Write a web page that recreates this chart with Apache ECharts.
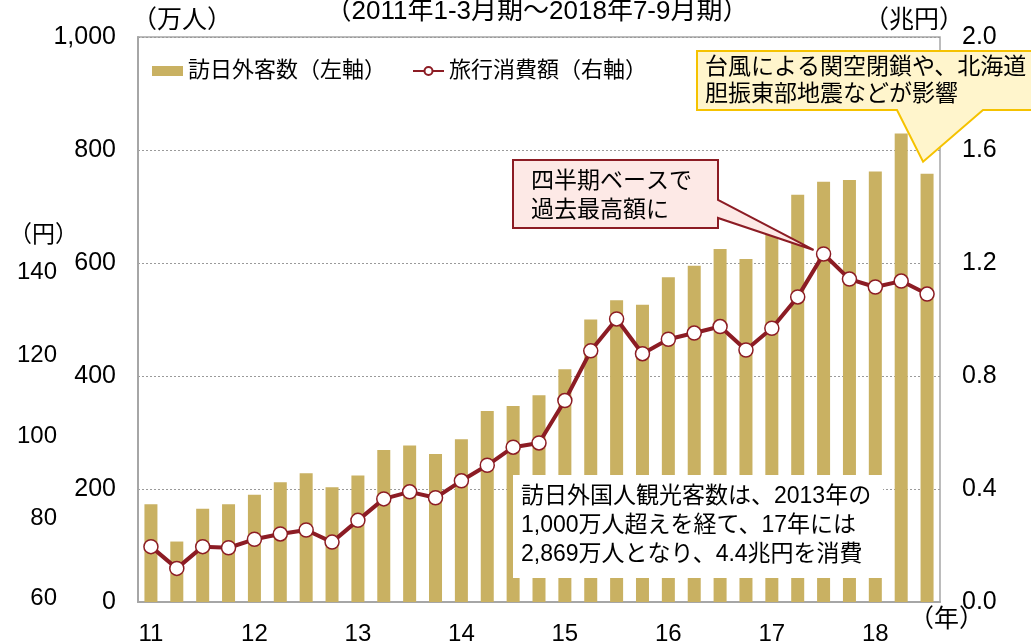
<!DOCTYPE html>
<html>
<head>
<meta charset="utf-8">
<script src="https://cdn.jsdelivr.net/npm/echarts@6/dist/echarts.min.js"></script>
<style>
  html, body { margin: 0; padding: 0; background: #fff; }
  #chart { width: 1031px; height: 641px; }
</style>
</head>
<body>
<div id="chart"></div>
<script>
// quarters 2011 Q1 .. 2018 Q3
var quarters = [
    '11-1', '11-2', '11-3', '11-4',
    '12-1', '12-2', '12-3', '12-4',
    '13-1', '13-2', '13-3', '13-4',
    '14-1', '14-2', '14-3', '14-4',
    '15-1', '15-2', '15-3', '15-4',
    '16-1', '16-2', '16-3', '16-4',
    '17-1', '17-2', '17-3', '17-4',
    '18-1', '18-2', '18-3'
];
// 訪日外客数 (万人)
var visitors = [
    173, 107, 165, 173,
    190, 212, 228, 203,
    224, 269, 277, 262,
    288, 338, 347, 366,
    412, 500, 534, 526,
    575, 595, 625, 607,
    657, 721, 744, 747,
    762, 829, 758
];
// 旅行消費額 (兆円)
var spending = [
    0.196, 0.119, 0.196, 0.192,
    0.222, 0.241, 0.255, 0.212,
    0.289, 0.365, 0.390, 0.369,
    0.429, 0.484, 0.548, 0.563,
    0.713, 0.889, 1.002, 0.879,
    0.930, 0.952, 0.975, 0.892,
    0.969, 1.080, 1.232, 1.143,
    1.115, 1.136, 1.090
];
var leftTicks = [0, 200, 400, 600, 800, 1000];
var rightTicks = [0, 0.4, 0.8, 1.2, 1.6, 2.0];
// stray labels of the neighbouring chart (円)
var yenTicks = ['140', '120', '100', '80', '60'];

var FONT = '"Liberation Sans", Arial, "Noto Sans CJK JP", sans-serif';
var BAR = '#c9b162';
var RED = '#8c1c24';

var chart = echarts.init(document.getElementById('chart'), null, {renderer: 'canvas'});

var option = {
    backgroundColor: '#fff',
    animation: false,
    textStyle: { fontFamily: FONT, color: '#000' },
    grid: {
        left: 138, right: 91, top: 37, bottom: 39,
        outerBoundsMode: 'none',
        show: true, borderColor: '#a6a6a6', borderWidth: 1.5
    },
    legend: {
        left: 147, top: 55,
        itemWidth: 31, itemHeight: 10, itemGap: 26,
        textStyle: { fontSize: 22, color: '#000', fontFamily: FONT },
        data: [
            { name: '訪日外客数（左軸）', icon: 'rect' },
            { name: '旅行消費額（右軸）' }
        ]
    },
    xAxis: {
        type: 'category',
        data: quarters,
        boundaryGap: true,
        axisLine: { lineStyle: { color: '#a6a6a6', width: 2 } },
        axisTick: {
            interval: function (idx) { return idx % 4 === 0; },
            length: 6,
            lineStyle: { color: '#a6a6a6' }
        },
        axisLabel: {
            interval: function (idx) { return idx % 4 === 0; },
            formatter: function (v) { return v.split('-')[0]; },
            fontSize: 24, color: '#000', margin: 20, fontFamily: FONT
        }
    },
    yAxis: [{
        type: 'value',
        min: leftTicks[0], max: leftTicks[leftTicks.length - 1], interval: 200,
        axisLine: { show: true, lineStyle: { color: '#a6a6a6', width: 2 } },
        axisTick: { show: false },
        axisLabel: {
            fontSize: 25, color: '#000', margin: 22, fontFamily: FONT,
            formatter: function (v) { return v === 1000 ? '1,000' : String(v); }
        },
        splitLine: { lineStyle: { color: '#9a9a9a', type: [2, 2], width: 1 } }
    }, {
        type: 'value',
        min: rightTicks[0], max: rightTicks[rightTicks.length - 1], interval: 0.4,
        axisLine: { show: false },
        axisTick: { show: false },
        axisLabel: {
            fontSize: 25, color: '#000', margin: 22, fontFamily: FONT,
            formatter: function (v) { return v.toFixed(1); }
        },
        splitLine: { show: false }
    }],
    series: [{
        name: '訪日外客数（左軸）',
        type: 'bar',
        yAxisIndex: 0,
        barWidth: 13,
        itemStyle: { color: BAR },
        data: visitors
    }, {
        name: '旅行消費額（右軸）',
        type: 'line',
        yAxisIndex: 1,
        symbol: 'circle',
        symbolSize: 14,
        lineStyle: { color: RED, width: 4 },
        itemStyle: { color: '#fff', borderColor: RED, borderWidth: 1.5 },
        data: spending,
        z: 5
    }]
};
chart.setOption(option);

// callout tips anchored on data
var peak = chart.convertToPixel({xAxisIndex: 0, yAxisIndex: 1}, [26, spending[26]]);
var last = chart.convertToPixel({xAxisIndex: 0, yAxisIndex: 0}, [30, visitors[30]]);

var graphics = [
    { type: 'text', x: 537, y: -1, style: { text: '（2011年1-3月期～2018年7-9月期）', font: '26px ' + FONT, fill: '#000', align: 'center' } },
    { type: 'text', x: 132, y: 9, style: { text: '（万人）', font: '25px ' + FONT, fill: '#000' } },
    { type: 'text', x: 864, y: 9, style: { text: '（兆円）', font: '25px ' + FONT, fill: '#000' } },
    { type: 'text', x: 909, y: 608, style: { text: '（年）', font: '25px ' + FONT, fill: '#000' } },
    { type: 'text', x: 9, y: 224, style: { text: '（円）', font: '23px ' + FONT, fill: '#000' } },
    { type: 'text', x: 14, y: 607, style: { text: '）', font: '23px ' + FONT, fill: '#000', align: 'right' } },
    // pink callout
    {
        type: 'polygon', z: 20,
        shape: { points: [[513, 160], [718, 160], [718, 200], [peak[0] - 10, peak[1] - 4], [718, 218], [718, 228], [513, 228]] },
        style: { fill: '#fde9e6', stroke: RED, lineWidth: 2 }
    },
    { type: 'text', x: 531, y: 167, z: 21, style: { text: '四半期ベースで\n過去最高額に', font: '23px ' + FONT, fill: '#000', lineHeight: 29 } },
    // yellow callout
    {
        type: 'polygon', z: 20,
        shape: { points: [[697, 51], [1036, 51], [1036, 110], [983, 110], [last[0] - 4, last[1] - 12], [897, 110], [697, 110]] },
        style: { fill: '#fff5cc', stroke: '#f5c200', lineWidth: 2 }
    },
    { type: 'text', x: 705, y: 54, z: 21, style: { text: '台風による関空閉鎖や、北海道\n胆振東部地震などが影響', font: '23px ' + FONT, fill: '#000', lineHeight: 27 } },
    // white note box
    { type: 'rect', z: 20, shape: { x: 513, y: 475, width: 370, height: 103 }, style: { fill: '#fff' } },
    { type: 'text', x: 521, y: 482, z: 21, style: { text: '訪日外国人観光客数は、2013年の\n1,000万人超えを経て、17年には\n2,869万人となり、4.4兆円を消費', font: '23px ' + FONT, fill: '#000', lineHeight: 29 } }
];
var yenY = [272, 355, 436, 518, 598];
for (var i = 0; i < yenTicks.length; i++) {
    graphics.push({ type: 'text', x: 57, y: yenY[i], style: { text: yenTicks[i], font: '24px ' + FONT, fill: '#000', align: 'right', verticalAlign: 'middle' } });
}
chart.setOption({ graphic: graphics });
</script>
</body>
</html>
